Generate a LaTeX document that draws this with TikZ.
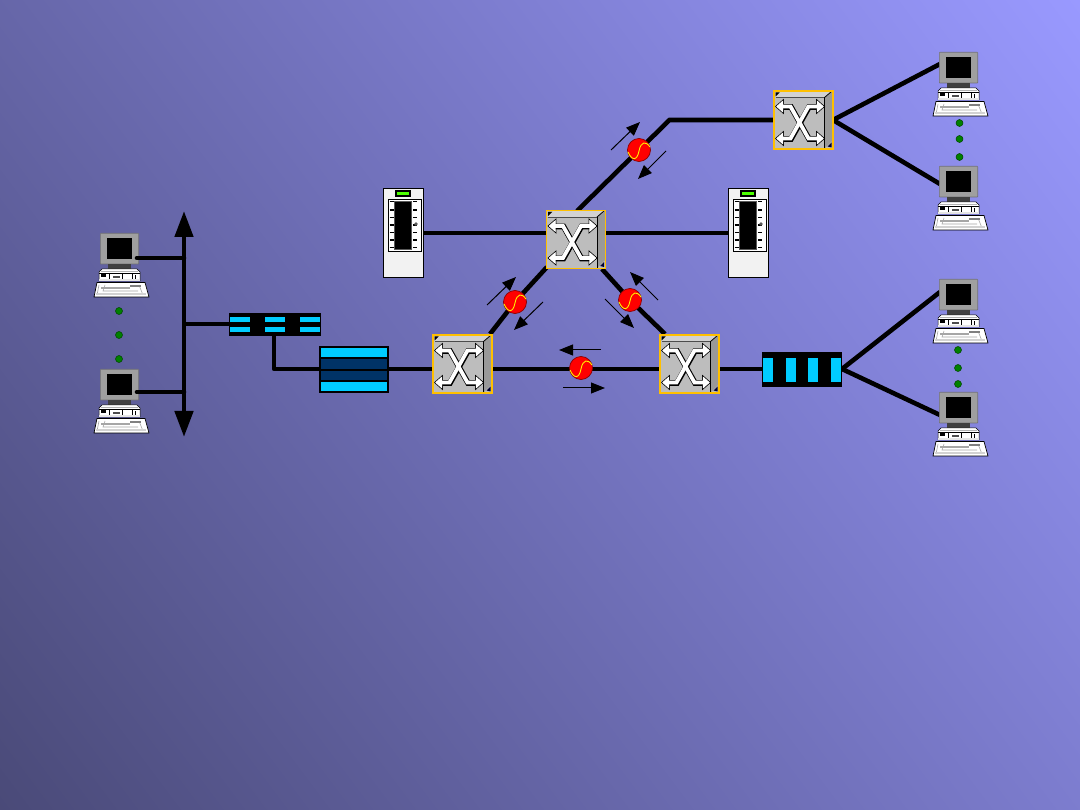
\documentclass[tikz,border=0pt]{standalone}
\usetikzlibrary{arrows.meta}
\pgfdeclarelayer{bgl}
\pgfdeclarelayer{edges}
\pgfsetlayers{bgl,edges,main}
\definecolor{bgdark}{HTML}{4A4A78}
\definecolor{bglight}{HTML}{9999FF}
\definecolor{cyanbar}{HTML}{00CCFF}
\definecolor{navybar}{HTML}{003366}
\definecolor{oxcedge}{HTML}{FFC000}
\tikzset{
  link/.style={line width=4.6pt,black},
  flow/.style={line width=1pt,black,-{Triangle[length=14pt,width=11pt]}},
  busline/.style={line width=4.6pt,black,{Triangle[length=26pt,width=18pt]}-{Triangle[length=26pt,width=18pt]}},
  devbox/.style={rectangle,inner sep=0pt,outer sep=0pt},
  modem/.style={circle,inner sep=0pt,outer sep=0pt,minimum size=23pt,fill=red,draw=red!55!black,line width=0.7pt},
  gdot/.style={circle,inner sep=0pt,outer sep=0pt,minimum size=7pt,fill=green!50!black,draw=green!25!black,line width=0.5pt},
  pics/oxcunit/.style={code={
    \fill[gray!52!white] (0,0) rectangle (60,59);
    \fill[gray!35!white] (1,7) -- (7,1) -- (59,1) -- (51,7) -- cycle;
    \fill[gray!80!white] (51,7) -- (59,1) -- (59,50) -- (51,58) -- cycle;
    \draw[black!70,line width=0.7pt] (2,7) -- (51,7);
    \draw[black,line width=0.9pt] (51,7) -- (51,58);
    \draw[black,line width=0.8pt] (51,7) -- (58,1);
    \fill[black] (2,6) -- (6,2) -- (2,2) -- cycle;
    \fill[black!80!blue] (54,56) -- (58,52) -- (58,57) -- cycle;
    \draw[black,line width=5.6pt] (6,16.5) -- (17.5,16.5) -- (35.5,48.5) -- (47,48.5);
    \draw[black,line width=5.6pt] (6,48.5) -- (17.5,48.5) -- (35.5,16.5) -- (47,16.5);
    \foreach \p in {(2,16),(2,48)}{
      \draw[black,line width=0.7pt] \p -- ++(8,-7) -- ++(0,14) -- cycle;
      \fill[white] \p ++(0.8,0) -- ++(6.8,-6) -- ++(0,12) -- cycle;
    }
    \foreach \p in {(51,16),(51,48)}{
      \draw[black,line width=0.7pt] \p -- ++(-8,-7) -- ++(0,14) -- cycle;
      \fill[white] \p ++(-0.8,0) -- ++(-6.8,-6) -- ++(0,12) -- cycle;
    }
    \draw[white,line width=3.8pt] (8,16) -- (17,16) -- (35,48) -- (45,48);
    \draw[white,line width=3.8pt] (8,48) -- (17,48) -- (35,16) -- (45,16);
    \draw[oxcedge,line width=1.9pt] (0.5,0.5) rectangle (59.5,58.5);
  }},
  pics/pcunit/.style={code={
    \fill[gray!75!white,draw=gray!90!black,line width=0.6pt,rounded corners=0.6pt] (0.3,0.3) rectangle (38.7,31);
    \fill[black] (7,5) rectangle (32,26);
    \fill[black!75] (8,31) rectangle (31,36);
    \fill[white,draw=black,line width=0.5pt] (-1,48) -- (-1,39) -- (2,36) -- (37,36) -- (40,39) -- (40,48) -- cycle;
    \draw[gray!60,line width=0.8pt] (1,38.5) -- (38,38.5);
    \draw[black,line width=0.5pt] (-1,40) -- (40,40) (9,40) -- (9,47) (22,40) -- (22,47) (32,40) -- (32,47);
    \fill[black] (1,41.5) rectangle (5.5,44.5);
    \fill[black!70] (13,43) rectangle (20,45);
    \fill[black] (35,42) rectangle (36,46);
    \fill[gray!20!white] (-1,46.5) rectangle (40,48);
    \fill[white,draw=black,line width=0.7pt] (-6,64) -- (-3,49.5) -- (45,49.5) -- (49,64) -- cycle;
    \draw[gray!70,line width=0.6pt] (-3,62) -- (-1,52) (5,52) -- (3,58) -- (38,58) (39,52) -- (43,62);
    \draw[gray!70,line width=1.4pt] (1,55) -- (30,55);
    \draw[gray,line width=1.2pt] (30,53) -- (41,53);
    \fill[gray!35!white] (-4,60) rectangle (46,62.5);
  }},
  pics/serverunit/.style={code={
    \fill[gray!10!white,draw=black,line width=0.9pt] (0.3,0.3) rectangle (40.7,89.7);
    \fill[black] (12,2) rectangle (28,9);
    \fill[green!70!yellow] (14,4) rectangle (26,7);
    \fill[white,draw=black,line width=0.8pt] (5,11) rectangle (38,63);
    \fill[black,draw=gray!70!black,line width=0.4pt] (11,13) rectangle (28,61);
    \foreach \y/\w in {13.7/0.8,22/1.8,29.3/0.8,37/1.8,44.7/0.8,52/1.8,59.3/0.8}{
      \draw[black,line width=\w pt] (6.5,\y) -- (10.5,\y);
      \draw[black,line width=\w pt] (30,\y) -- (34,\y);
    }
    \fill[black!65] (33,36) circle (1.8);
  }},
  pics/sineunit/.style={code={
    \draw[yellow,line width=0.9pt] (-11,2) .. controls (-7,11) and (-2,11) .. (0,1) .. controls (2,-9) and (7,-9) .. (11,-3);
  }},
}
\begin{document}
\begin{tikzpicture}[x=1pt,y=-1pt]
\useasboundingbox (0,0) rectangle (1080,810);
\begin{pgfonlayer}{bgl}
  \begin{scope}
    \clip (0,0) rectangle (1080,810);
    \begin{scope}[transform canvas={shift={(540pt,-405pt)},rotate=36.87}]
      \shade[left color=bgdark,right color=bglight] (-675pt,-720pt) rectangle (675pt,720pt);
    \end{scope}
  \end{scope}
\end{pgfonlayer}

% computers
\foreach \n/\x/\y in {pcA/100/233,pcB/100/369,pcC/939/52,pcD/939/166,pcE/939/279,pcF/939/392}{
  \node[devbox,minimum width=39pt,minimum height=32pt,anchor=north west] (\n) at (\x,\y) {};
  \pic at (\n.north west) {pcunit};
}
% switches
\foreach \n/\x/\y in {oxcA/546/210,oxcB/432.5/334.5,oxcC/659.5/334.5,oxcT/773.5/90.5}{
  \node[devbox,minimum width=60pt,minimum height=59pt,anchor=north west] (\n) at (\x,\y) {};
  \pic at (\n.north west) {oxcunit};
}
% servers
\foreach \n/\x in {srvL/383,srvR/728}{
  \node[devbox,minimum width=41pt,minimum height=90pt,anchor=north west] (\n) at (\x,188) {};
  \pic at (\n.north west) {serverunit};
}
% optical amplifiers
\foreach \n/\x/\y in {ampT/639/150,ampL/515/302,ampR/630/300,ampB/581/368}{
  \node[modem] (\n) at (\x,\y) {};
  \pic at (\n) {sineunit};
}
% black connector
\node[devbox,fill=black,minimum width=92pt,minimum height=23pt,anchor=north west] (conn) at (229,313) {};
\foreach \x in {230,265,300}{
  \fill[cyanbar] (\x,317) rectangle ++(20,5);
  \fill[cyanbar] (\x,327) rectangle ++(20,5);
}
% stack
\node[devbox,fill=black,minimum width=70pt,minimum height=47pt,anchor=north west] (stack) at (319,346) {};
\fill[cyanbar] (321,348) rectangle (387,357);
\fill[navybar] (321,359) rectangle (387,369);
\fill[navybar] (321,371) rectangle (387,380);
\fill[cyanbar] (321,382) rectangle (387,391);
% line unit
\node[devbox,fill=black,minimum width=80pt,minimum height=35pt,anchor=north west] (lineu) at (762,352) {};
\foreach \x in {763,786,808,831}{
  \fill[cyanbar] (\x,358) rectangle ++(10,24);
}
% dots
\foreach \n/\x/\y in {d1/119/311,d2/119/335,d3/119/359,d4/959.5/123,d5/959.5/139,d6/959.5/157,d7/958/350,d8/958/368,d9/958/384}{
  \node[gdot] (\n) at (\x,\y) {};
}

% free ends
\coordinate (busT) at (184,211);
\coordinate (busB) at (184,437);
\coordinate (busA) at (184,258);
\coordinate (busC) at (184,392);
\coordinate (busM) at (184,324);
\coordinate (pcAo) at (137,258);
\coordinate (pcBo) at (137,392);
\coordinate (connL) at (229,324);
\coordinate (connD) at (274,336);
\coordinate (connB) at (274,369);
\coordinate (stackL) at (319,369);
\coordinate (stackR) at (389,369);
\coordinate (bendT) at (669.5,120);
\coordinate (swTop) at (577,211);
\coordinate (legLa) at (547,267);
\coordinate (legLb) at (490,334);
\coordinate (legRa) at (602,269);
\coordinate (legRb) at (665,334);
\coordinate (pcCi) at (940,64);
\coordinate (pcDi) at (940,184);
\coordinate (pcEi) at (940,292);
\coordinate (pcFi) at (940,415);
\coordinate (oxcTr) at (833,120);
\coordinate (lineR) at (842,369);
\coordinate (srvY) at (576,233);

\begin{pgfonlayer}{edges}
  \draw[link] (swTop) -- (ampT) -- (bendT) -- (oxcT.west);
  \draw[link] (srvL.east |- srvY) -- (oxcA.west |- srvY);
  \draw[link] (oxcA.east |- srvY) -- (srvR.west |- srvY);
  \draw[link] (legLa) -- (ampL) -- (legLb);
  \draw[link] (legRa) -- (ampR) -- (legRb);
  \draw[link] (stackR) -- (oxcB.west |- stackR);
  \draw[link] (oxcB.east |- stackR) -- (oxcC.west |- stackR);
  \draw[link] (oxcC.east |- stackR) -- (lineu.west |- stackR);
  \draw[link] (oxcTr) -- (pcCi);
  \draw[link] (oxcTr) -- (pcDi);
  \draw[link] (lineR) -- (pcEi);
  \draw[link] (lineR) -- (pcFi);
  \draw[link] (busM) -- (connL);
  \draw[link,line join=round] (connD) -- (connB) -- (stackL);
\end{pgfonlayer}
\draw[link,line cap=round] (pcAo) -- (busA);
\draw[link,line cap=round] (pcBo) -- (busC);
\draw[busline] (busT) -- (busB);

% signal direction arrows
\coordinate (f1a) at (611,150); \coordinate (f1b) at (640,122);
\coordinate (f2a) at (666,151); \coordinate (f2b) at (638,179);
\coordinate (f3a) at (487,305); \coordinate (f3b) at (516,277);
\coordinate (f4a) at (543,302); \coordinate (f4b) at (514,330);
\coordinate (f5a) at (605,299); \coordinate (f5b) at (634,328);
\coordinate (f6a) at (658,300); \coordinate (f6b) at (630,272);
\coordinate (f7a) at (601,350); \coordinate (f7b) at (559,350);
\coordinate (f8a) at (563,388); \coordinate (f8b) at (605,388);
\foreach \i in {1,...,8}{ \draw[flow] (f\i a) -- (f\i b); }
\end{tikzpicture}
\end{document}
